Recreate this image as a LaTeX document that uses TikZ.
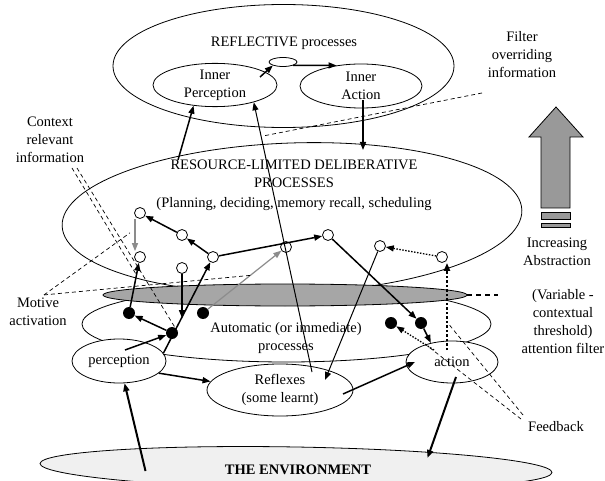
\documentclass[tikz,border=0pt]{standalone}
\usepackage{fontspec}
\setmainfont{Liberation Serif}
\usetikzlibrary{shapes.geometric, arrows.meta, calc}

\begin{document}
\begin{tikzpicture}[
        x=1pt, y=-1pt,
        every node/.style={font=\fontsize{14.5}{18}\selectfont},
        layer/.style={ellipse, draw, line width=0.8pt, fill=white, inner sep=0pt},
        proc/.style={ellipse, draw, line width=0.8pt, fill=white, inner sep=0pt, align=center},
        opencirc/.style={circle, draw, line width=0.8pt, fill=white, minimum size=11pt, inner sep=0pt},
        blob/.style={circle, fill=black, minimum size=12pt, inner sep=0pt},
        lbl/.style={align=center, inner sep=0pt},
        flow/.style={->, >={Triangle[length=8pt, width=6pt]}, line width=1.5pt},
        thinflow/.style={flow, line width=1pt},
        heavyflow/.style={flow, line width=2pt},
        greyflow/.style={flow, line width=1.2pt, black!45},
        dotflow/.style={flow, line width=1.3pt, dash pattern=on 1.5pt off 1.5pt},
        bigdotflow/.style={flow, line width=2.6pt, dash pattern=on 2.5pt off 2pt},
        pointer/.style={line width=0.7pt, dash pattern=on 4pt off 3pt}
    ]
        \useasboundingbox (0,0) rectangle (605,481);

        % The environment
        \node[layer, fill=black!6, minimum width=512pt, minimum height=42pt, rotate=-1] (env) at (296,468) {};
        \node[font=\fontsize{14.5}{18}\selectfont\bfseries] (envtxt) at (298,470) {THE ENVIRONMENT};

        % Reflective layer
        \node[layer, minimum width=341pt, minimum height=123pt] (refl) at (283.5,66) {};
        \node (refltxt) at (284,43) {REFLECTIVE processes};
        \node[proc, minimum width=124pt, minimum height=43pt] (inperc) at (215,85) {Inner\\Perception};
        \node[proc, minimum width=122pt, minimum height=44pt] (inact) at (361,86) {Inner\\Action};
        \node[layer, minimum width=28pt, minimum height=9pt] (inloop) at (283,62) {};

        % Deliberative layer
        \node[layer, minimum width=460pt, minimum height=150pt, rotate=2] (delib) at (292,218) {};
        \node[lbl] (delibtxt) at (294,174) {RESOURCE-LIMITED DELIBERATIVE\\PROCESSES};
        \node[lbl] (delibsub) at (294,204) {(Planning, deciding, memory recall, scheduling};

        % Automatic layer + attention filter
        \node[layer, minimum width=409pt, minimum height=76pt] (autom) at (286.5,324) {};
        \node[layer, fill=black!35, minimum width=364pt, minimum height=22pt] (filt) at (285,295) {};
        \node[lbl] (automtxt) at (286,338) {Automatic (or immediate)\\processes};
        \node[proc, minimum width=94pt, minimum height=44pt] (perc) at (119,361) {perception};
        \node[proc, minimum width=146pt, minimum height=52pt] (reflex) at (280,390) {Reflexes\\(some learnt)};
        \node[proc, minimum width=92pt, minimum height=42pt] (action) at (452,362) {action};

        % Deliberative states
        \node[opencirc] (c1) at (140,213) {};
        \node[opencirc] (c2) at (182,235) {};
        \node[opencirc] (c3) at (213,257) {};
        \node[opencirc] (c4) at (140,257) {};
        \node[opencirc] (c5) at (182,268) {};
        \node[opencirc] (c6) at (286,247) {};
        \node[opencirc] (c7) at (328,235) {};
        \node[opencirc] (c8) at (380,246) {};
        \node[opencirc] (c9) at (442,257) {};

        % Automatic states
        \node[blob] (d1) at (129,313) {};
        \node[blob] (d2) at (203,313) {};
        \node[blob] (d3) at (172,333) {};
        \node[blob] (d4) at (391,323) {};
        \node[blob] (d5) at (421,323) {};

        % Side labels
        \node[lbl] (ctxlbl) at (50,140) {Context\\relevant\\information};
        \node[lbl] (motlbl) at (38,312) {Motive\\activation};
        \node[lbl] (filtlbl) at (522,55) {Filter\\overriding\\information};
        \node[lbl] (abslbl) at (557,252) {Increasing\\Abstraction};
        \node[lbl] (varlbl) at (563,322) {(Variable -\\contextual\\threshold)\\attention filter};
        \node (fbklbl) at (556,427) {Feedback};
        \coordinate (gap) at (263,136);
        \coordinate (filtend) at (498,295);

        % Increasing abstraction arrow
        \draw[line width=0.8pt, fill=black!40] (541,208) -- (541,137) -- (529,137) -- (556,107) -- (583,137) -- (570,137) -- (570,208) -- cycle;
        \draw[line width=0.8pt, fill=black!40] (541,212) rectangle (570,219);
        \draw[line width=0.8pt, fill=black!40] (541,223) rectangle (570,227);

        % Reflective arrows
        \draw[flow] ([shift={(45,-8)}]inperc.center) -- (inloop.south west);
        \draw[flow] (inloop.south east) -- (inact.140);
        \draw[flow] ([shift={(2,14)}]inact.center) -- ([shift={(71,-68)}]delib.center);
        \draw[flow] ([shift={(-114,-58)}]delib.center) -- (inperc.224);
        \draw[thinflow] ([shift={(32,-18)}]reflex.center) -- (inperc.336);

        % Deliberative arrows
        \draw[flow] (c3) -- (c2);
        \draw[flow] (c2) -- (c1);
        \draw[greyflow] ([xshift=-5pt]c1.south) -- ([xshift=-5pt]c4.north);
        \draw[flow] (c3) -- (c7);
        \draw[greyflow] (d2) -- (c6);
        \draw[flow] (c5) -- ([shift={(0,50)}]c5.center);
        \draw[flow] (d1) -- (c4);
        \draw[flow] (d3) -- (d1);
        \draw[flow] ([shift={(6,-11)}]perc.center) -- (d3);
        \draw[flow] (perc.10) -- (c3);
        \draw[thinflow] (c8) -- ([shift={(45,-10)}]reflex.center);
        \draw[flow] (c7) -- (d5);

        % Automatic arrows
        \draw[flow] (perc.-17) -- (reflex.173);
        \draw[flow] ([shift={(63,4)}]reflex.center) -- ([shift={(-37,0)}]action.center);
        \draw[flow] (d5) -- (action.138);
        \draw[dotflow] ([shift={(-18,-12)}]action.center) -- (d4);
        \draw[bigdotflow] ([shift={(-5,-12)}]action.center) -- ([xshift=5pt]c9.south);
        \draw[dotflow] (c9) -- (c8);
        \draw[heavyflow] ([shift={(4,15)}]action.center) -- ([shift={(131.5,-10)}]env.center);
        \draw[heavyflow] ([shift={(-150.5,3)}]env.center) -- (perc.-76);

        % Pointers
        \draw[pointer] ([shift={(-40,38)}]filtlbl.center) -- (gap);
        \draw[pointer] ([shift={(22,28)}]ctxlbl.center) -- ($(d1)!0.68!(c4)$);
        \draw[pointer] ([shift={(27,28)}]ctxlbl.center) -- (d3.60);
        \draw[pointer] ([shift={(6,-3)}]motlbl.north) -- ($(c1)!0.45!(c4)+(-10,0)$);
        \draw[pointer] ([shift={(6,-3)}]motlbl.north) -- ($(d2)!0.57!(c6)$);
        \draw[pointer] ([shift={(-33,-12)}]fbklbl.center) -- ([shift={(-5,-40)}]action.center);
        \draw[pointer] ([shift={(-35,-8)}]fbklbl.center) -- ([shift={(-27,-18)}]action.center);
        \draw[line width=1.5pt, dash pattern=on 5pt off 4pt] (filt.east) -- (filtend);

    \end{tikzpicture}
\end{document}
